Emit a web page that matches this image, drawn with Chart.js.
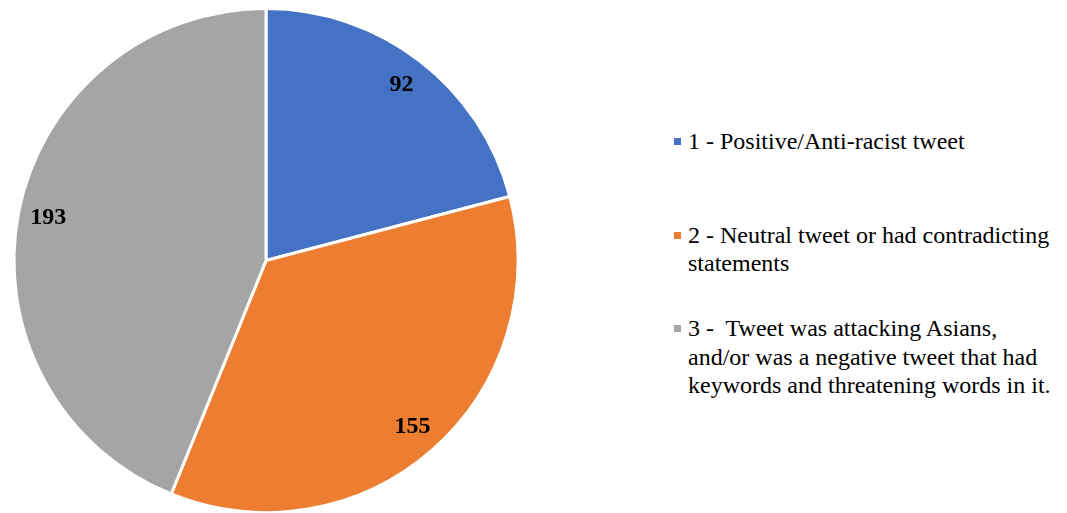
<!DOCTYPE html>
<html>
<head>
<meta charset="utf-8">
<script src="https://cdn.jsdelivr.net/npm/chart.js@4/dist/chart.umd.min.js"></script>
<style>
  html, body { margin: 0; padding: 0; background: #fff; }
  #wrap { position: relative; width: 1067px; height: 513px; overflow: hidden; }
  #pie-box { position: absolute; left: 0; top: 0; width: 532px; height: 516px; }
  #legend { position: absolute; left: 671px; top: 87px; width: 396px;
            font-family: "Liberation Serif", "Times New Roman", serif; font-size: 24px; color: #000; }
  .item { height: 108px; display: flex; align-items: center; }
  .item .row { display: flex; align-items: flex-start; }
  .item .box { width: 7px; height: 7px; margin: 11px 7px 0 3px; flex: none; }
  .item .txt { line-height: 28.5px; white-space: pre; }
</style>
</head>
<body>
<div id="wrap">
  <div id="pie-box"><canvas id="pie"></canvas></div>
  <div id="legend"></div>
</div>
<script>
// tweet categories (legend lines) and counts
const categories = [
    ['1 - Positive/Anti-racist tweet'],
    ['2 - Neutral tweet or had contradicting', 'statements'],
    ['3 -  Tweet was attacking Asians,', 'and/or was a negative tweet that had', 'keywords and threatening words in it.']
];
const counts = [92, 155, 193];
const colors = ['#4472C4', '#ED7D31', '#A5A5A5'];

// value labels drawn near the outer edge of each slice
const valueLabels = {
    id: 'valueLabels',
    afterDatasetsDraw(chart) {
        const ctx = chart.ctx;
        const meta = chart.getDatasetMeta(0);
        ctx.save();
        ctx.font = 'bold 24px "Liberation Serif", "Times New Roman", serif';
        ctx.fillStyle = '#000';
        ctx.textAlign = 'center';
        ctx.textBaseline = 'middle';
        meta.data.forEach((arc, i) => {
            const p = arc.getProps(['x', 'y', 'startAngle', 'endAngle', 'outerRadius'], true);
            const mid = (p.startAngle + p.endAngle) / 2;
            const r = p.outerRadius * 0.88;
            ctx.fillText(String(counts[i]), p.x + Math.cos(mid) * r, p.y + Math.sin(mid) * r);
        });
        ctx.restore();
    }
};

new Chart(document.getElementById('pie'), {
    type: 'pie',
    data: {
        labels: categories,
        datasets: [{
            data: counts,
            backgroundColor: colors,
            borderColor: '#fff',
            borderWidth: 3
        }]
    },
    options: {
        responsive: true,
        maintainAspectRatio: false,
        animation: false,
        layout: { padding: { top: 7, bottom: 2, left: 12, right: 12 } },
        plugins: {
            legend: { display: false },
            tooltip: { enabled: false }
        }
    },
    plugins: [valueLabels]
});

// legend on the right
const legend = document.getElementById('legend');
categories.forEach((lines, i) => {
    const item = document.createElement('div');
    item.className = 'item';
    const row = document.createElement('div');
    row.className = 'row';
    const box = document.createElement('span');
    box.className = 'box';
    box.style.background = colors[i];
    const txt = document.createElement('span');
    txt.className = 'txt';
    txt.textContent = lines.join('\n');
    row.appendChild(box);
    row.appendChild(txt);
    item.appendChild(row);
    legend.appendChild(item);
});
</script>
</body>
</html>
